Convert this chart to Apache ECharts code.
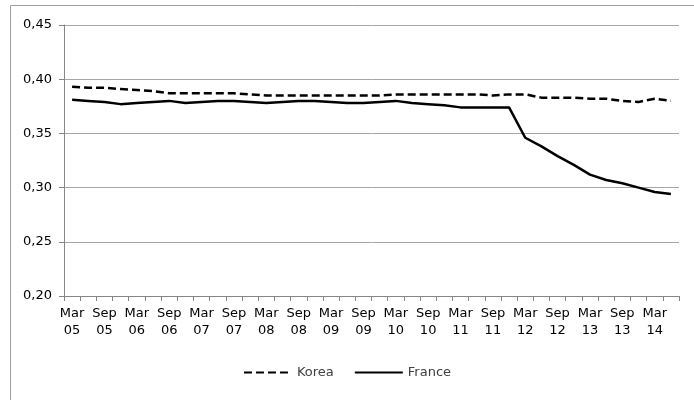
<!DOCTYPE html>
<html>
<head>
<meta charset="utf-8">
<script src="https://cdn.jsdelivr.net/npm/echarts@6/dist/echarts.min.js"></script>
<style>html,body{margin:0;padding:0;background:#fff;}#c{width:694px;height:400px;}</style>
</head>
<body>
<div id="c"></div>
<script>
const categories = ["Mar 05","Jun 05","Sep 05","Dec 05","Mar 06","Jun 06","Sep 06","Dec 06","Mar 07","Jun 07","Sep 07","Dec 07","Mar 08","Jun 08","Sep 08","Dec 08","Mar 09","Jun 09","Sep 09","Dec 09","Mar 10","Jun 10","Sep 10","Dec 10","Mar 11","Jun 11","Sep 11","Dec 11","Mar 12","Jun 12","Sep 12","Dec 12","Mar 13","Jun 13","Sep 13","Dec 13","Mar 14","Jun 14"];
const korea = [0.393,0.392,0.392,0.391,0.390,0.389,0.387,0.387,0.387,0.387,0.387,0.386,0.385,0.385,0.385,0.385,0.385,0.385,0.385,0.385,0.386,0.386,0.386,0.386,0.386,0.386,0.385,0.386,0.386,0.383,0.383,0.383,0.382,0.382,0.380,0.379,0.382,0.380];
const france = [0.381,0.380,0.379,0.377,0.378,0.379,0.380,0.378,0.379,0.380,0.380,0.379,0.378,0.379,0.380,0.380,0.379,0.378,0.378,0.379,0.380,0.378,0.377,0.376,0.374,0.374,0.374,0.374,0.346,0.338,0.329,0.321,0.312,0.307,0.304,0.300,0.296,0.294];
const yTicks = {min:0.20, max:0.45, interval:0.05};
const seriesNames = ["Korea","France"];

const chart = echarts.init(document.getElementById('c'), null, {renderer:'canvas'});
const font = 'DejaVu Sans';
chart.setOption({
  animation:false,
  backgroundColor:'#fff',
  graphic:[{type:'rect', shape:{x:10.5,y:5.5,width:700,height:420}, style:{fill:'none',stroke:'#a0a0a0',lineWidth:1}, silent:true, z:-1}],
  grid:{left:64, right:15, top:25, bottom:104, containLabel:false},
  legend:{
    data:seriesNames, bottom:16, left:'center', itemWidth:48, itemHeight:10, itemGap:20,
    itemStyle:{opacity:0},
    textStyle:{fontFamily:font, fontSize:13, color:'#404040'},
    selectedMode:false
  },
  xAxis:{
    type:'category', data:categories, boundaryGap:true,
    axisLine:{lineStyle:{color:'#868686', width:1}},
    axisTick:{show:true, interval:0, length:5, lineStyle:{color:'#868686'}},
    axisLabel:{interval:1, margin:9, fontFamily:font, fontSize:13, color:'#000', lineHeight:17,
      formatter:function(v){return v.replace(' ','\n');}},
    splitLine:{show:false}
  },
  yAxis:{
    type:'value', min:yTicks.min, max:yTicks.max, interval:yTicks.interval,
    axisLine:{show:true, lineStyle:{color:'#868686', width:1}},
    axisTick:{show:true, length:5, lineStyle:{color:'#868686'}},
    axisLabel:{margin:12, fontFamily:font, fontSize:13, color:'#000',
      formatter:function(v){return v.toFixed(2).replace('.',',');}},
    splitLine:{show:true, lineStyle:{color:'#a6a6a6', width:1}}
  },
  series:[
    {name:seriesNames[0], type:'line', data:korea, symbol:'none', showSymbol:false, smooth:false,
      lineStyle:{color:'#000', width:2.5, type:[8,4]}, itemStyle:{color:'#000'}},
    {name:seriesNames[1], type:'line', data:france, symbol:'none', showSymbol:false, smooth:false,
      lineStyle:{color:'#000', width:2.5, type:'solid'}, itemStyle:{color:'#000'}}
  ]
});
</script>
</body>
</html>
